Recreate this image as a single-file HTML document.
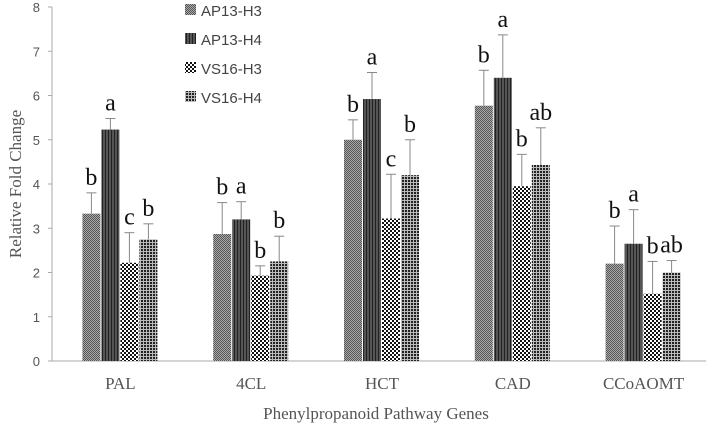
<!DOCTYPE html>
<html><head><meta charset="utf-8"><style>body{margin:0;background:#fff}svg{display:block}</style></head>
<body>
<svg id="chart" width="709" height="430" xmlns="http://www.w3.org/2000/svg">
<defs>
<pattern id="p0" width="2" height="2" patternUnits="userSpaceOnUse"><rect width="2" height="2" fill="#aaa"/><rect width="1" height="1" fill="#555"/><rect x="1" y="1" width="1" height="1" fill="#555"/></pattern>
<pattern id="p1" width="3" height="3" patternUnits="userSpaceOnUse"><rect width="3" height="3" fill="#555"/><rect width="1" height="3" fill="#222"/></pattern>
<pattern id="p2" width="4" height="4" patternUnits="userSpaceOnUse"><rect width="4" height="4" fill="#fff"/><rect width="2" height="2" fill="#111"/><rect x="2" y="2" width="2" height="2" fill="#111"/></pattern>
<pattern id="p3" width="3" height="3" patternUnits="userSpaceOnUse"><rect width="3" height="3" fill="#bbb"/><rect width="2" height="2" fill="#222"/></pattern>
</defs>
<g id="axes"></g><g id="bars"></g><g id="legend"></g>
</svg>
<script>
const categories=["PAL","4CL","HCT","CAD","CCoAOMT"];
const seriesNames=["AP13-H3","AP13-H4","VS16-H3","VS16-H4"];
const apH3=[3.33,2.87,5.0,5.77,2.2];
const apH4=[5.23,3.2,5.92,6.4,2.65];
const vsH3=[2.22,1.93,3.22,3.95,1.52];
const vsH4=[2.75,2.25,4.2,4.43,2.0];
const errH3=[0.47,0.71,0.45,0.8,0.85];
const errH4=[0.25,0.4,0.6,0.97,0.77];
const errV3=[0.68,0.22,1.0,0.72,0.73];
const errV4=[0.35,0.57,0.8,0.84,0.27];
const letH3=["b","b","b","b","b"];
const letH4=["a","a","a","a","a"];
const letV3=["c","b","c","b","b"];
const letV4=["b","b","b","ab","ab"];
const yTicks=[0,1,2,3,4,5,6,7,8];
const NS="http://www.w3.org/2000/svg";
const y0=361,y8=7,xL=52,xR=706;
const y=v=>y0-(y0-y8)*v/8;
const grp=(xR-xL)/categories.length;
const cx=i=>xL+grp*(i+0.5)+3;
const bw=19;
function mk(p,t,a,txt){const e=document.createElementNS(NS,t);for(const k in a)e.setAttribute(k,a[k]);if(txt!==undefined)e.textContent=txt;p.appendChild(e);return e;}
const ax=document.getElementById('axes');
let l=mk(ax,'line',{x1:xL,x2:xL,y1:y8,y2:y0,stroke:'#aaa'});


l=mk(ax,'line',{x1:xL,x2:xR,y1:y0,y2:y0,stroke:'#aaa'});


yTicks.forEach(t=>{mk(ax,'line',{x1:xL-4,x2:xL,y1:y(t),y2:y(t),stroke:'#aaa'});
const e=mk(ax,'text',{x:40,y:y(t)+5,'text-anchor':'end','font-family':'Liberation Sans, sans-serif','font-size':13,fill:'#555'},t);

});
categories.forEach((c,i)=>{const e=mk(ax,'text',{x:cx(i),y:389,'text-anchor':'middle','font-family':'Liberation Serif, serif','font-size':17,fill:'#555'},c);

});
let t=mk(ax,'text',{x:376,y:419,'text-anchor':'middle','font-family':'Liberation Serif, serif','font-size':17,fill:'#555'},'Phenylpropanoid Pathway Genes');


t=mk(ax,'text',{x:0,y:0,transform:'translate(21,184) rotate(-90)','text-anchor':'middle','font-family':'Liberation Serif, serif','font-size':17,fill:'#555'},'Relative Fold Change');


const series=[apH3,apH4,vsH3,vsH4],errs=[errH3,errH4,errV3,errV4],lets=[letH3,letH4,letV3,letV4];
const bars=document.getElementById('bars');
categories.forEach((c,i)=>{series.forEach((s,j)=>{
 const x=cx(i)-2*bw+j*bw;
 const r=mk(bars,'rect',{x:x,y:y(s[i]),width:bw-1,height:y0-y(s[i]),fill:'url(#p'+j+')'});
 
 
 const mx=x+bw/2-0.5,top=y(s[i]+errs[j][i]);
 mk(bars,'line',{x1:mx,x2:mx,y1:y(s[i]),y2:top,stroke:'#888'});
 mk(bars,'line',{x1:mx-5,x2:mx+5,y1:top,y2:top,stroke:'#888'});
 const tl=mk(bars,'text',{x:mx,y:top-8,'text-anchor':'middle','font-family':'Liberation Serif, serif','font-size':24,fill:'#111'},lets[j][i]);
 
 
});});
const lg=document.getElementById('legend');
seriesNames.forEach((n,j)=>{const yy=10+j*29;
 const g=mk(lg,'g',{});
 
 
 mk(g,'rect',{x:185,y:yy-6,width:11,height:11,fill:'url(#p'+j+')'});
 mk(g,'text',{x:201,y:yy+6,'font-family':'Liberation Sans, sans-serif','font-size':15,fill:'#444'},n);
});
</script>
</body></html>
